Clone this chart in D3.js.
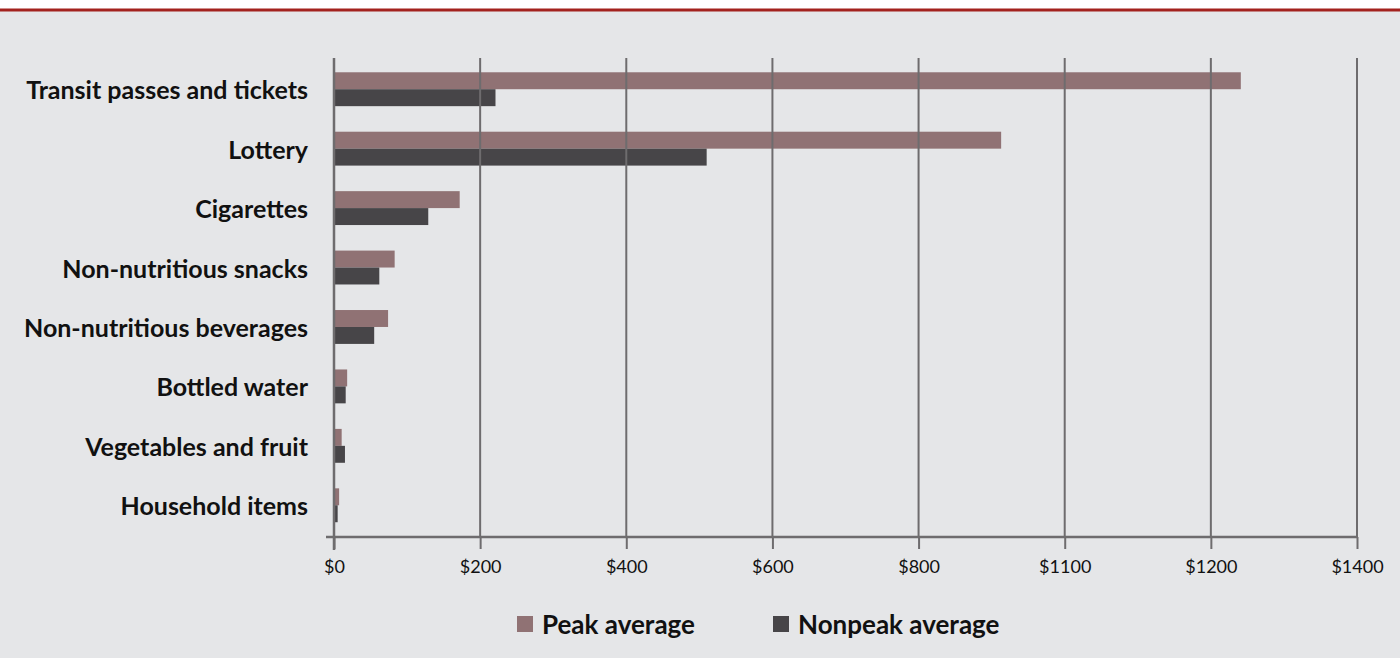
<!DOCTYPE html>
<html><head><meta charset="utf-8">
<script src="https://cdn.jsdelivr.net/npm/d3@7/dist/d3.min.js"></script>
<style>
html,body{margin:0;padding:0;background:#fff;}
svg{display:block;}
</style></head>
<body>
<svg id="chart" width="1400" height="658"></svg>
<script>
const categories = ["Transit passes and tickets","Lottery","Cigarettes","Non-nutritious snacks","Non-nutritious beverages","Bottled water","Vegetables and fruit","Household items"];
const peakValues = [1241, 913, 172, 83, 74, 18, 10.5, 7];
const nonpeakValues = [221, 510, 129, 62, 55, 16, 15, 5];
const seriesNames = ["Peak average","Nonpeak average"];
const seriesColors = ["#907274","#474548"];
const tickValues = [0,200,400,600,800,1000,1200,1400];
const tickLabels = ["$0","$200","$400","$600","$800","$1100","$1200","$1400"];

(function(){
const svg = d3.select("#chart");
const W = 1400, H = 658;
svg.append("rect").attr("x",0).attr("y",0).attr("width",W).attr("height",H).attr("fill","#ffffff");
svg.append("rect").attr("x",0).attr("y",11).attr("width",W).attr("height",H-11).attr("fill","#e5e6e8");
svg.append("rect").attr("x",0).attr("y",8.5).attr("width",W).attr("height",3).attr("fill","#a3221e");

const pLeft = 334, pRight = 1357, gridTop = 58, pBottom = 537;
const x = d3.scaleLinear().domain([0,1400]).range([pLeft,pRight]);
const y = d3.scaleBand().domain(categories).range([59.5,535]).paddingInner(0.43).paddingOuter(0.215);
const sub = d3.scaleBand().domain(seriesNames).range([0,y.bandwidth()]);

const data = categories.map((c,i)=>({cat:c, vals:[peakValues[i], nonpeakValues[i]]}));

const g = svg.append("g");
g.selectAll("g.cat").data(data).join("g").attr("class","cat")
  .attr("transform",d=>`translate(0,${y(d.cat)})`)
  .selectAll("rect").data(d=>d.vals.map((v,j)=>({v, s:seriesNames[j], c:seriesColors[j]})))
  .join("rect")
  .attr("x",x(0)).attr("y",d=>sub(d.s)).attr("height",sub.bandwidth())
  .attr("width",d=>x(d.v)-x(0)).attr("fill",d=>d.c);

// gridlines on top
svg.append("g").selectAll("line").data(tickValues.slice(1)).join("line")
  .attr("x1",d=>x(d)).attr("x2",d=>x(d)).attr("y1",gridTop).attr("y2",pBottom)
  .attr("stroke","#6e6c6e").attr("stroke-width",2);

// x axis
const xAxis = d3.axisBottom(x).tickValues(tickValues).tickFormat((d,i)=>tickLabels[i]).tickSize(12).tickSizeOuter(0).tickPadding(11);
const ax = svg.append("g").attr("transform",`translate(0,${pBottom})`).call(xAxis);
ax.select(".domain").remove();
ax.selectAll(".tick line").attr("stroke","#6e6c6e").attr("stroke-width",2);
ax.selectAll(".tick text").attr("fill","#111").style("font-family","Lato, 'Open Sans', sans-serif").style("font-size","18px");
svg.append("line").attr("x1",326).attr("x2",pRight).attr("y1",pBottom).attr("y2",pBottom).attr("stroke","#6e6c6e").attr("stroke-width",2.5);
// y axis line
svg.append("line").attr("x1",pLeft).attr("x2",pLeft).attr("y1",gridTop).attr("y2",550).attr("stroke","#6e6c6e").attr("stroke-width",2.5);

// category labels
const yAxis = d3.axisLeft(y).tickSize(0).tickPadding(26);
const ay = svg.append("g").attr("transform",`translate(${pLeft},0)`).call(yAxis);
ay.select(".domain").remove();
ay.selectAll(".tick text").attr("dy","0.4em").attr("fill","#111").style("font-family","Lato, 'Open Sans', sans-serif").style("font-weight","700").style("font-size","25px");

// legend
const legendX = [517, 773];
const lg = svg.append("g").selectAll("g").data(seriesNames).join("g")
  .attr("transform",(d,i)=>`translate(${legendX[i]},616)`);
lg.append("rect").attr("width",16).attr("height",16).attr("fill",(d,i)=>seriesColors[i]);
lg.append("text").attr("x",25).attr("y",18).text(d=>d)
  .attr("fill","#111").style("font-family","Lato, 'Open Sans', sans-serif").style("font-weight","700").style("font-size","26px");
})();
</script>
</body></html>
